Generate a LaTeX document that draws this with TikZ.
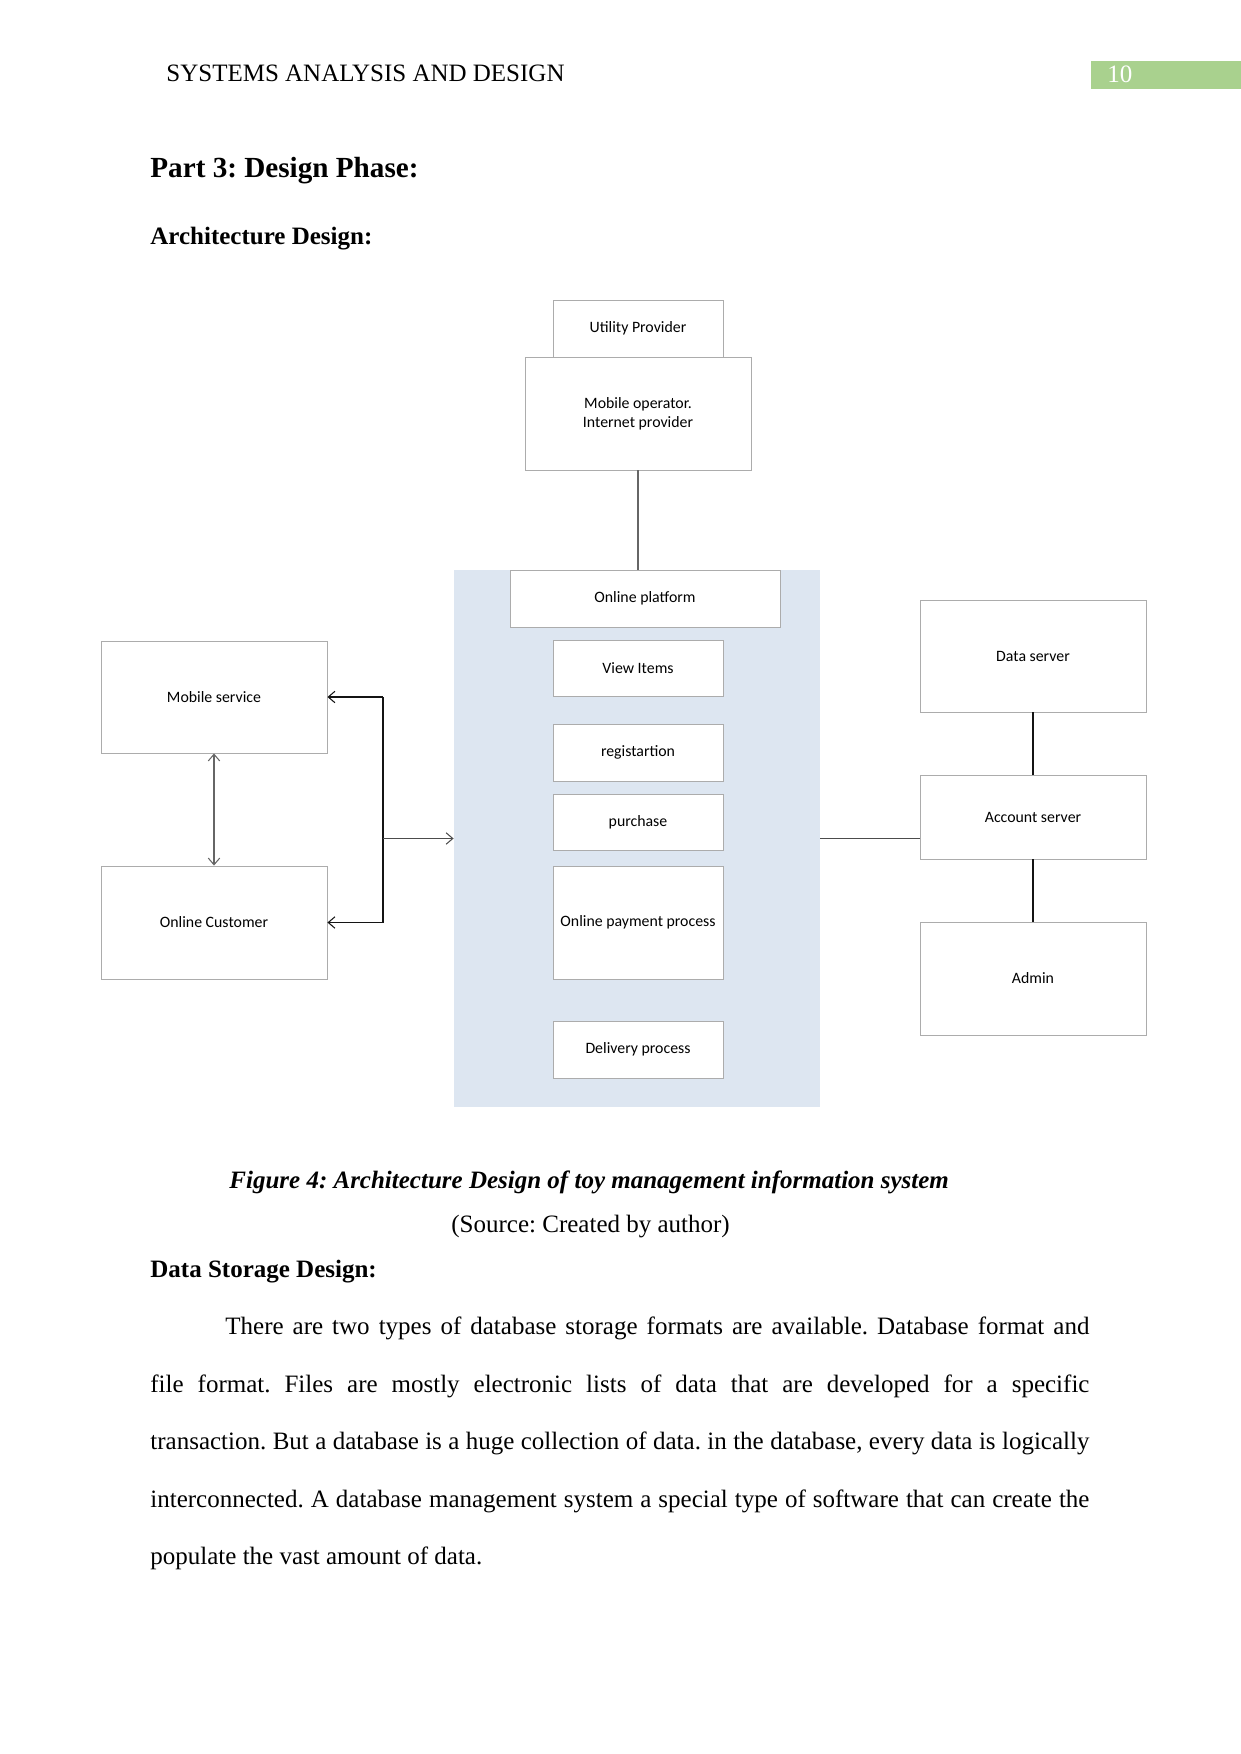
\documentclass[tikz,border=0pt]{standalone}
\usepackage{fontspec}
\setmainfont{Liberation Serif}
\newfontfamily\diag{Carlito}
\usetikzlibrary{arrows.meta}
\definecolor{boxgray}{RGB}{172,172,172}
\definecolor{panelblue}{RGB}{221,230,241}
\definecolor{pagegreen}{RGB}{169,209,142}
\definecolor{conncol}{RGB}{20,20,20}
\frenchspacing
\begin{document}
\frenchspacing
\begin{tikzpicture}[x=0.48pt,y=-0.48pt,
  wh/.style 2 args={minimum width={#1*0.48pt}, minimum height={#2*0.48pt}},
  box/.style={draw=boxgray, fill=white, line width=0.45pt, inner sep=0pt, align=center,
    font=\diag\fontsize{7.6}{9}\selectfont, text=black},
  conn/.style={draw=conncol, line width=0.5pt},
  tip/.style={-{Straight Barb[length=3.2pt,width=5.5pt]}},
  ptext/.style={anchor=base west, inner sep=0pt, font=\fontsize{12}{14}\selectfont}]
\useasboundingbox (0,0) rectangle (1241,1754);
\fill[white] (0,0) rectangle (1241,1754);
% header
\node[ptext] (hdr) at (166,81.5) {SYSTEMS ANALYSIS AND DESIGN};
\node[fill=pagegreen, inner sep=0pt, wh={150.5}{28}, anchor=north west] (pgbox) at (1090.5,61) {};
\node[ptext, text=white] (pgnum) at (1107,82) {10};
% headings
\node[ptext, font=\bfseries\fontsize{14}{16}\selectfont] (part) at (150,177) {Part 3: Design Phase:};
\node[ptext, font=\bfseries\fontsize{12}{14}\selectfont] (arch) at (150,244) {Architecture Design:};
% diagram
\node[box, wh={170}{57}] (util) at (638,328.5) {Utility Provider};
\node[box, wh={226}{113}] (mobop) at (638,413.5) {Mobile operator.\\Internet provider};
\node[fill=panelblue, inner sep=0pt, wh={366}{537}] (panel) at (637,838.5) {};
\node[box, wh={270}{57}] (plat) at (645,598.5) {Online platform};
\node[box, wh={170}{56}] (view) at (638,668) {View Items};
\node[box, wh={170}{57}] (reg) at (638,752.5) {registartion};
\node[box, wh={170}{56}] (purch) at (638,822) {purchase};
\node[box, wh={170}{113}] (pay) at (638,922.5) {Online payment process};
\node[box, wh={170}{57}] (deliv) at (638,1049.5) {Delivery process};
\node[box, wh={226}{112}] (mserv) at (214,697) {Mobile service};
\node[box, wh={226}{113}] (ocust) at (214,922.5) {Online Customer};
\node[box, wh={226}{112}] (dserv) at (1033,656) {Data server};
\node[box, wh={226}{84}] (acc) at (1033,817) {Account server};
\node[box, wh={226}{113}] (admin) at (1033,978.5) {Admin};
\coordinate (br) at (383,838.5);
% connectors
\draw[conn, draw=black!60] (mobop.south) -- (mobop.south |- plat.north);
\draw[conn, draw=black!60, {Straight Barb[length=3.2pt,width=5.5pt]}-{Straight Barb[length=3.2pt,width=5.5pt]}] (mserv.south) -- (ocust.north);
\draw[conn] (br |- mserv.east) -- (br |- ocust.east);
\draw[conn, tip] (br |- mserv.east) -- (mserv.east);
\draw[conn, tip] (br |- ocust.east) -- (ocust.east);
\draw[conn, draw=black!70, tip] (br) -- (br -| panel.west);
\draw[conn, draw=black!70] (panel.east) -- (acc.west |- panel.east);
\draw[conn] (dserv.south) -- (acc.north);
\draw[conn] (acc.south) -- (admin.north);
% caption
\node[ptext, font=\bfseries\itshape\fontsize{12}{14}\selectfont] (cap) at (229,1188) {Figure 4: Architecture Design of toy management information system};
\node[ptext] (src) at (451,1232) {(Source: Created by author)};
\node[ptext, font=\bfseries\fontsize{12}{14}\selectfont] (dsd) at (150,1277) {Data Storage Design:};
% paragraph
\node[ptext] (l1) at (225,1334.5) {\makebox[414.72pt][s]{There are two types of database storage formats are available. Database format and}};
\node[ptext] (l2) at (150,1392) {\makebox[450.72pt][s]{file format. Files are mostly electronic lists of data that are developed for a specific}};
\node[ptext] (l3) at (150,1449.5) {\makebox[450.72pt][s]{transaction. But a database is a huge collection of data. in the database, every data is logically}};
\node[ptext] (l4) at (150,1507) {\makebox[450.72pt][s]{interconnected. A database management system a special type of software that can create the}};
\node[ptext] (l5) at (150,1564.5) {populate the vast amount of data.};
\end{tikzpicture}
\end{document}
